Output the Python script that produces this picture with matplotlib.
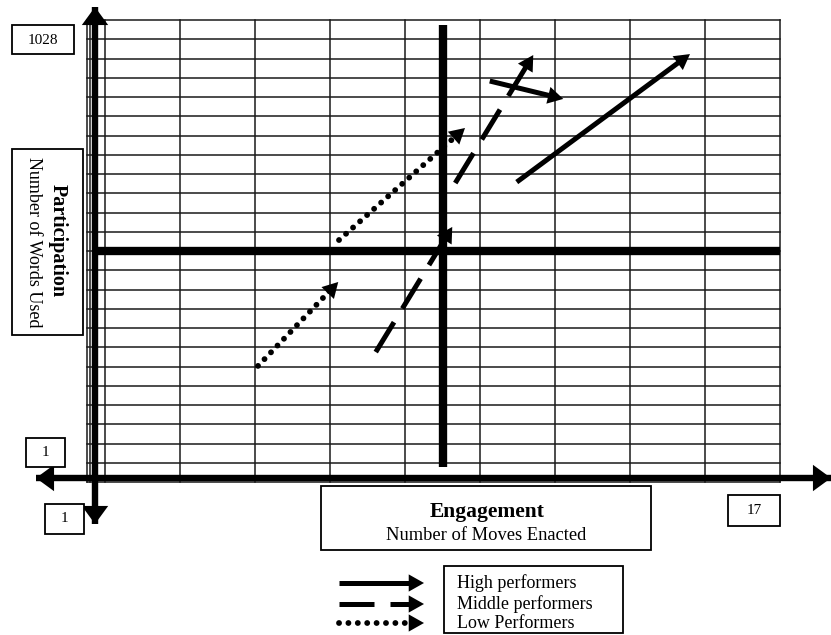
import numpy as np
import matplotlib.pyplot as plt
from matplotlib.patches import Rectangle

plt.rcParams['font.family'] = ['Liberation Serif', 'DejaVu Serif']

# grid: 9 columns (engagement) x 24 rows (participation), quadrant split at the middle
n_cols = 9
n_rows = 24
mid_x = 4.5
mid_y = 12

# arrows in grid units: start x, start y, end x, end y
high_x0 = [5.49, 5.13]
high_y0 = [15.58, 20.83]
high_x1 = [7.80, 6.11]
high_y1 = [22.23, 19.90]

mid_x0 = [3.61, 4.67]
mid_y0 = [6.75, 15.53]
mid_x1 = [4.63, 5.71]
mid_y1 = [13.25, 22.18]

low_x0 = [2.04, 3.12]
low_y0 = [6.03, 12.57]
low_x1 = [3.11, 4.80]
low_y1 = [10.39, 18.39]

y_min_label, y_max_label = '1', '1028'
x_min_label, x_max_label = '1', '17'
legend_labels = ['High performers', 'Middle performers', 'Low Performers']

W, H = 831, 635
fig = plt.figure(figsize=(W / 100, H / 100), dpi=100)
ax = fig.add_axes([0, 0, 1, 1])
# pixel -> grid unit mapping (grid spans x 105..780 px, y 482..20 px)
X0, DX, Y0, DY = 105, 75.0, 482, 19.25
ax.set_xlim((0 - X0) / DX, (W - X0) / DX)
ax.set_ylim((Y0 - H) / DY, Y0 / DY)
ax.axis('off')


def P(x, y):
    return (x - X0) / DX, (Y0 - y) / DY


# grid lines
left = P(87, 0)[0]
for r in range(n_rows + 1):
    ax.plot([left, n_cols], [r, r], color='#1a1a1a', lw=1.1, zorder=1)
for c in [left, P(90, 0)[0]] + list(range(n_cols + 1)):
    ax.plot([c, c], [0, n_rows], color='#1a1a1a', lw=1.1, zorder=1)

# quadrant lines
ax.plot([mid_x, mid_x], [P(0, 25)[1], P(0, 467)[1]], color='k', lw=6, solid_capstyle='butt', zorder=2)
ax.plot([P(95, 0)[0], n_cols], [mid_y, mid_y], color='k', lw=6, solid_capstyle='butt', zorder=2)


def shorten(x0, y0, x1, y1, px):
    # pull the end point back along the line by px pixels
    a = ax.transData.transform((x0, y0))
    b = ax.transData.transform((x1, y1))
    d = b - a
    b2 = b - d / np.hypot(*d) * px
    return ax.transData.inverted().transform(b2)


def head(x0, y0, x1, y1, hl, hw):
    # filled triangle only (line width 0), hl/hw in points
    ax.annotate('', xy=(x1, y1), xytext=(x0, y0),
                arrowprops=dict(arrowstyle='-|>,head_length=%g,head_width=%g' % (hl, hw),
                                lw=0, fc='k', ec='none', mutation_scale=1,
                                shrinkA=0, shrinkB=0), zorder=4)


def arrow(x0, y0, x1, y1, style, lw=3.6, hl=11, hw=6.2):
    ex, ey = shorten(x0, y0, x1, y1, hl * 1.39 * 0.8)
    if style == 'solid':
        ax.plot([x0, ex], [y0, ey], color='k', lw=lw, solid_capstyle='butt', zorder=4)
    elif style == 'dash':
        ax.plot([x0, ex], [y0, ey], color='k', lw=lw, dashes=(7.0, 3.2),
                dash_capstyle='butt', zorder=4)
    else:
        ax.plot([x0, ex], [y0, ey], color='k', lw=lw + 0.6, dashes=(0.01, 1.6),
                dash_capstyle='round', zorder=4)
    head(x0, y0, x1, y1, hl, hw)


# main axes, double headed
y_bot, y_top = P(95, 524), P(95, 7)
x_lft, x_rgt = P(36, 478), P(831, 478)
for a, b in [(y_bot, y_top), (x_lft, x_rgt)]:
    ax.plot([a[0], b[0]], [a[1], b[1]], color='k', lw=4.6, solid_capstyle='butt', zorder=3)
    head(a[0], a[1], b[0], b[1], 13, 9.5)
    head(b[0], b[1], a[0], a[1], 13, 9.5)

for i in range(len(high_x0)):
    arrow(high_x0[i], high_y0[i], high_x1[i], high_y1[i], 'solid')
for i in range(len(mid_x0)):
    arrow(mid_x0[i], mid_y0[i], mid_x1[i], mid_y1[i], 'dash')
for i in range(len(low_x0)):
    arrow(low_x0[i], low_y0[i], low_x1[i], low_y1[i], 'dot')


def box(x0, y0, x1, y1):
    a, b = P(x0, y1)
    c, d = P(x1, y0)
    ax.add_patch(Rectangle((a, b), c - a, d - b, fill=True, fc='white', ec='k', lw=1.3, zorder=5))


box(12, 25, 74, 54)
ax.text(*P(43, 40), y_max_label, ha='center', va='center', fontsize=11, zorder=6)
box(26, 438, 65, 467)
ax.text(*P(45.5, 452), y_min_label, ha='center', va='center', fontsize=11, zorder=6)
box(45, 504, 84, 534)
ax.text(*P(64.5, 519), x_min_label, ha='center', va='center', fontsize=11, zorder=6)
box(728, 495, 780, 526)
ax.text(*P(754, 510), x_max_label, ha='center', va='center', fontsize=11, zorder=6)

box(12, 149, 83, 335)
ax.text(*P(58, 241), 'Participation', rotation=270, ha='center', va='center',
        fontsize=14.5, fontweight='bold', zorder=6)
ax.text(*P(33, 242), 'Number of Words Used', rotation=270, ha='center', va='center',
        fontsize=13, zorder=6)

box(321, 486, 651, 550)
ax.text(*P(487, 512), 'Engagement', ha='center', va='center', fontsize=15.5, fontweight='bold', zorder=6)
ax.text(*P(486, 535), 'Number of Moves Enacted', ha='center', va='center', fontsize=13.3, zorder=6)

# legend
box(444, 566, 623, 633)
for lab, yy, st in zip(legend_labels, [583, 604, 623], ['solid', 'dash', 'dot']):
    x0, y0 = P(339, yy)
    x1, y1 = P(424, yy)
    arrow(x0, y0, x1, y1, st)
    ax.text(*P(457, yy), lab, ha='left', va='center', fontsize=13, zorder=6)

fig.savefig('out.png', dpi=100)
